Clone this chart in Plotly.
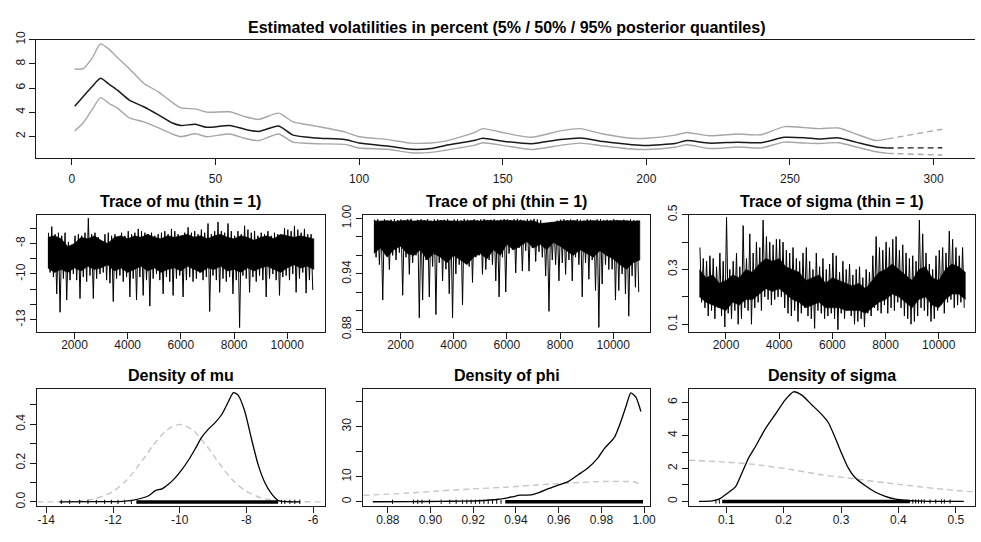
import numpy as np
import plotly.graph_objects as go

W, H = 981, 542
FONT = "Liberation Sans, Arial, Helvetica, sans-serif"
INK = "#1a1a1a"
GRAY = "#a6a6a6"
LIGHT = "#c6c6c6"

# ---------------------------------------------------------------- volatility
t_obs = [1, 4, 7, 10, 13, 16, 20, 25, 30, 35, 38, 43, 47, 55, 60, 65, 72, 77,
         85, 95, 100, 110, 118, 125, 130, 140, 143, 150, 160, 170, 177, 185,
         195, 200, 210, 214, 222, 232, 240, 248, 255, 260, 267, 273, 280, 284]
vol_q50 = [4.5, 5.3, 6.1, 6.8, 6.3, 5.8, 5.0, 4.45, 3.8, 3.1, 2.9, 3.0, 2.75,
           2.9, 2.6, 2.4, 2.85, 2.1, 1.87, 1.73, 1.45, 1.2, 0.93, 0.99, 1.25,
           1.65, 1.84, 1.6, 1.39, 1.73, 1.87, 1.57, 1.31, 1.25, 1.41, 1.65,
           1.44, 1.52, 1.47, 1.92, 1.89, 1.79, 1.87, 1.52, 1.12, 1.04]
vol_q95 = [7.57, 7.6, 8.45, 9.65, 9.2, 8.5, 7.6, 6.4, 5.7, 4.8, 4.35, 4.27,
           4.0, 4.03, 3.65, 3.4, 3.92, 3.2, 2.85, 2.37, 1.97, 1.73, 1.44, 1.45,
           1.6, 2.3, 2.64, 2.32, 1.92, 2.45, 2.64, 2.19, 1.84, 1.84, 2.1, 2.32,
           2.05, 2.19, 2.13, 2.8, 2.72, 2.64, 2.69, 2.19, 1.65, 1.79]
vol_q05 = [2.45, 3.12, 4.19, 5.2, 4.72, 4.32, 3.52, 3.2, 2.72, 2.19, 1.97,
           2.21, 1.97, 2.19, 1.84, 1.65, 2.19, 1.52, 1.39, 1.33, 1.04, 0.93,
           0.64, 0.67, 0.85, 1.25, 1.47, 1.25, 0.91, 1.25, 1.44, 1.2, 0.95,
           0.91, 1.1, 1.31, 0.99, 1.12, 1.04, 1.52, 1.45, 1.41, 1.47, 1.12,
           0.72, 0.59]
t_fore = [284, 303]
fore_q50 = [1.04, 1.05]
fore_q95 = [1.79, 2.59]
fore_q05 = [0.59, 0.45]

# ---------------------------------------------------------------- MCMC draws
# draws 1001..11000 summarised in blocks of 125: block high / block low
draw_start, draw_block = 1001, 125
mu_hi = [-7.3, -6.9, -7.4, -7.3, -7.5, -7.3, -7.9, -8.1, -7.5, -7.4,
         -7.5, -7.3, -6.35, -7.4, -7.3, -7.6, -8.0, -7.4, -7.3, -7.5,
         -7.4, -7.6, -7.3, -7.5, -7.2, -7.4, -7.3, -7.05, -7.2, -7.3,
         -7.4, -7.3, -7.5, -7.4, -7.3, -7.2, -7.4, -7.05, -7.2, -7.4,
         -7.5, -7.3, -6.95, -7.3, -7.2, -7.4, -7.1, -7.3, -6.7, -7.4,
         -7.2, -6.6, -7.2, -7.3, -6.7, -7.2, -7.5, -7.2, -7.4, -6.85,
         -7.1, -7.3, -7.2, -7.5, -7.3, -7.4, -7.2, -7.5, -7.3, -7.4,
         -7.5, -7.0, -7.1, -7.2, -6.85, -7.1, -7.3, -7.05, -7.4, -7.4]
mu_lo = [-9.9, -10.2, -11.3, -12.5, -10.3, -11.7, -10.4, -10.0, -10.4, -11.6,
         -10.2, -10.5, -10.1, -11.6, -10.3, -10.0, -9.9, -10.4, -10.6, -11.8,
         -10.3, -10.1, -10.5, -10.2, -11.5, -10.3, -11.7, -10.2, -11.4, -10.4,
         -12.1, -10.3, -10.0, -10.4, -11.3, -10.2, -10.5, -11.4, -10.3, -10.1,
         -11.5, -10.4, -10.2, -10.5, -10.3, -9.9, -10.4, -10.2, -12.45, -10.1,
         -10.4, -11.2, -10.3, -10.5, -10.2, -11.3, -10.4, -13.5, -10.1, -10.3,
         -11.2, -10.2, -10.5, -10.1, -10.4, -11.5, -10.3, -10.0, -10.4, -11.4,
         -10.2, -10.1, -10.4, -10.0, -11.2, -10.3, -9.9, -11.25, -10.4, -11.05]
phi_hi = [0.9985, 0.9990, 0.9975, 0.9990, 0.9960, 0.9985, 0.9992, 0.9980, 0.9988, 0.9975,
          0.9990, 0.9994, 0.9970, 0.9985, 0.9990, 0.9980, 0.9992, 0.9975, 0.9988, 0.9990,
          0.9980, 0.9985, 0.9992, 0.9970, 0.9988, 0.9990, 0.9980, 0.9994, 0.9985, 0.9975,
          0.9990, 0.9982, 0.9988, 0.9992, 0.9978, 0.9985, 0.9990, 0.9975, 0.9985, 0.9992,
          0.9988, 0.9980, 0.9990, 0.9994, 0.9985, 0.9978, 0.9990, 0.9985, 0.9994, 0.9988,
          0.9980, 0.9950, 0.9940, 0.9960, 0.9945, 0.9975, 0.9985, 0.9990, 0.9980, 0.9988,
          0.9975, 0.9990, 0.9985, 0.9978, 0.9990, 0.9985, 0.9970, 0.9988, 0.9992, 0.9980,
          0.9985, 0.9975, 0.9990, 0.9982, 0.9965, 0.9985, 0.9975, 0.9988, 0.9980, 0.9975]
phi_lo = [0.958, 0.950, 0.9117, 0.962, 0.9447, 0.960, 0.955, 0.963, 0.9169, 0.958,
          0.9395, 0.952, 0.960, 0.8926, 0.9117, 0.955, 0.9152, 0.948, 0.8961, 0.952,
          0.9325, 0.945, 0.9186, 0.8926, 0.940, 0.950, 0.9065, 0.955, 0.948, 0.9308,
          0.958, 0.960, 0.9395, 0.9447, 0.955, 0.950, 0.9325, 0.9152, 0.958, 0.9204,
          0.962, 0.966, 0.9412, 0.968, 0.943, 0.965, 0.943, 0.968, 0.9534, 0.964,
          0.958, 0.9377, 0.8995, 0.955, 0.950, 0.9325, 0.952, 0.9395, 0.955, 0.9325,
          0.958, 0.950, 0.9152, 0.952, 0.9342, 0.955, 0.9221, 0.8822, 0.929, 0.950,
          0.9447, 0.945, 0.9117, 0.9221, 0.940, 0.9186, 0.8943, 0.938, 0.9256, 0.9204]
sigma_hi = [0.38, 0.34, 0.33, 0.35, 0.34, 0.31, 0.36, 0.33,
            0.49, 0.30, 0.33, 0.36, 0.31, 0.46, 0.34, 0.43,
            0.36, 0.40, 0.38, 0.48, 0.42, 0.40, 0.39, 0.41,
            0.41, 0.40, 0.37, 0.36, 0.38, 0.34, 0.33, 0.36,
            0.38, 0.33, 0.30, 0.36, 0.31, 0.34, 0.30, 0.32,
            0.36, 0.35, 0.29, 0.33, 0.30, 0.32, 0.28, 0.30,
            0.31, 0.27, 0.30, 0.29, 0.35, 0.42, 0.38, 0.37,
            0.40, 0.38, 0.41, 0.42, 0.37, 0.39, 0.36, 0.34,
            0.35, 0.33, 0.48, 0.43, 0.36, 0.32, 0.30, 0.35,
            0.37, 0.38, 0.36, 0.44, 0.41, 0.38, 0.35, 0.38]
sigma_lo = [0.18, 0.16, 0.13, 0.15, 0.12, 0.16, 0.13, 0.09,
            0.14, 0.12, 0.15, 0.10, 0.12, 0.16, 0.15, 0.10,
            0.16, 0.18, 0.15, 0.20, 0.19, 0.17, 0.19, 0.20,
            0.20, 0.16, 0.14, 0.13, 0.15, 0.11, 0.14, 0.16,
            0.13, 0.12, 0.085, 0.15, 0.14, 0.12, 0.13, 0.14,
            0.12, 0.08, 0.14, 0.12, 0.15, 0.13, 0.10, 0.11,
            0.12, 0.09, 0.14, 0.13, 0.16, 0.15, 0.14, 0.17,
            0.14, 0.16, 0.15, 0.18, 0.16, 0.13, 0.12, 0.10,
            0.11, 0.13, 0.16, 0.15, 0.13, 0.11, 0.12, 0.15,
            0.17, 0.14, 0.18, 0.19, 0.16, 0.17, 0.18, 0.16]

# dense middle of each chain, every 250 draws (1000..11000)
core_step = 250
mu_core_hi = [-7.6, -7.5, -7.7, -8.2, -8.0, -7.6, -7.7, -7.5, -7.8, -8.0,
              -7.6, -7.5, -7.7, -7.5, -7.6, -7.4, -7.6, -7.7, -7.5, -7.6,
              -7.5, -7.4, -7.6, -7.5, -7.7, -7.5, -7.4, -7.6, -7.7, -7.5,
              -7.6, -7.8, -7.6, -7.5, -7.7, -7.4, -7.5, -7.6, -7.5, -7.6, -7.7]
mu_core_lo = [-9.6, -9.9, -9.7, -9.9, -9.6, -9.8, -9.5, -9.7, -9.6, -9.4,
              -9.8, -9.6, -9.9, -9.7, -9.5, -9.8, -9.6, -9.9, -9.7, -9.6,
              -9.8, -9.5, -9.7, -9.9, -9.6, -9.7, -9.5, -9.8, -9.7, -9.9,
              -9.6, -9.8, -9.6, -9.5, -9.7, -9.9, -9.6, -9.4, -9.6, -9.5, -9.7]
phi_core_hi = [0.9975, 0.9970, 0.9978, 0.9965, 0.9975, 0.9980, 0.9972, 0.9978, 0.9975, 0.9968,
               0.9978, 0.9975, 0.9980, 0.9970, 0.9975, 0.9978, 0.9972, 0.9980, 0.9975, 0.9978,
               0.9980, 0.9975, 0.9978, 0.9970, 0.9975, 0.9945, 0.9950, 0.9960, 0.9972, 0.9975,
               0.9978, 0.9970, 0.9975, 0.9978, 0.9972, 0.9975, 0.9970, 0.9978, 0.9975, 0.9970, 0.9975]
phi_core_lo = [0.962, 0.968, 0.958, 0.966, 0.970, 0.962, 0.960, 0.966, 0.955, 0.962,
               0.958, 0.952, 0.960, 0.955, 0.950, 0.958, 0.962, 0.956, 0.966, 0.960,
               0.972, 0.966, 0.970, 0.975, 0.968, 0.972, 0.966, 0.974, 0.970, 0.965,
               0.960, 0.966, 0.962, 0.958, 0.965, 0.960, 0.956, 0.950, 0.945, 0.952, 0.955]
sigma_core_hi = [0.30, 0.27, 0.28, 0.25, 0.26, 0.28, 0.27, 0.30, 0.29, 0.32,
                 0.34, 0.33, 0.34, 0.31, 0.30, 0.29, 0.26, 0.27, 0.28, 0.25,
                 0.27, 0.26, 0.25, 0.24, 0.25, 0.23, 0.26, 0.29, 0.30, 0.32,
                 0.30, 0.28, 0.26, 0.30, 0.31, 0.27, 0.26, 0.30, 0.32, 0.31, 0.29]
sigma_core_lo = [0.20, 0.18, 0.17, 0.16, 0.15, 0.18, 0.17, 0.19, 0.19, 0.21,
                 0.23, 0.22, 0.23, 0.21, 0.19, 0.18, 0.16, 0.17, 0.18, 0.16,
                 0.16, 0.16, 0.15, 0.15, 0.15, 0.14, 0.16, 0.18, 0.19, 0.21,
                 0.20, 0.18, 0.16, 0.19, 0.20, 0.17, 0.16, 0.19, 0.21, 0.21, 0.19]

# ---------------------------------------------------------------- densities
mu_dens_x = [-13.6, -12.5, -11.7, -11.42, -11.12, -10.92, -10.73, -10.53, -10.33,
             -10.13, -9.93, -9.73, -9.53, -9.34, -9.14, -8.94, -8.74, -8.54,
             -8.39, -8.25, -8.05, -7.85, -7.65, -7.45, -7.25, -7.06, -6.96, -6.6, -6.4]
mu_dens_y = [0, 0.001, 0.003, 0.008, 0.02, 0.033, 0.058, 0.067, 0.092, 0.125,
             0.167, 0.217, 0.275, 0.333, 0.375, 0.408, 0.45, 0.517, 0.563, 0.55,
             0.467, 0.325, 0.192, 0.1, 0.042, 0.008, 0.003, 0.0005, 0]
mu_prior_x = [-14.27, -13.5, -13.0, -12.5, -12.0, -11.6, -11.2, -10.8, -10.4, -10.0,
              -9.6, -9.2, -8.8, -8.4, -8.0, -7.5, -7.0, -6.5, -5.66]
mu_prior_y = [0.0, 0.001, 0.005, 0.018, 0.054, 0.11, 0.195, 0.29, 0.368, 0.399,
              0.368, 0.29, 0.195, 0.11, 0.054, 0.018, 0.005, 0.001, 0.0]
mu_rug_core = [-11.3, -7.05]
mu_rug_tail = [-13.55, -13.3, -13.0, -12.75, -12.5, -12.25, -12.05, -11.85, -11.65,
               -11.45, -6.95, -6.85, -6.7, -6.55, -6.4]

phi_dens_x = [0.873, 0.89, 0.905, 0.915, 0.9225, 0.9318, 0.938, 0.9419, 0.9473,
              0.9504, 0.9551, 0.9597, 0.9644, 0.969, 0.9737, 0.9783, 0.9814,
              0.9861, 0.9892, 0.9915, 0.9938, 0.9961, 0.9985]
phi_dens_y = [0, 0.05, 0.15, 0.25, 0.4, 1.0, 1.9, 2.6, 2.7, 3.5, 5.2, 6.6, 8.0,
              10.7, 13.5, 17.4, 21.2, 25.7, 32.2, 38.0, 43.4, 41.8, 36.0]
phi_prior_x = [0.8685, 0.8884, 0.9039, 0.9194, 0.9349, 0.9504, 0.9659, 0.9814,
               0.9908, 0.9954, 0.9985]
phi_prior_y = [2.55, 3.4, 4.3, 5.1, 5.8, 6.7, 7.5, 8.1, 8.1, 7.9, 6.9]
phi_rug_core = [0.935, 0.9995]
phi_rug_tail = [0.8822, 0.892, 0.894, 0.896, 0.8995, 0.905, 0.909, 0.912, 0.915,
                0.917, 0.919, 0.921, 0.923, 0.925, 0.927, 0.929, 0.931, 0.933]

sigma_dens_x = [0.0526, 0.0758, 0.090, 0.1017, 0.116, 0.1277, 0.139, 0.1507, 0.168,
                0.1854, 0.2027, 0.2171, 0.2316, 0.2489, 0.2662, 0.2777, 0.2893,
                0.3009, 0.3123, 0.3239, 0.3412, 0.3585, 0.3758, 0.3932, 0.4162,
                0.4394, 0.47, 0.514]
sigma_dens_y = [0, 0.04, 0.19, 0.49, 0.88, 1.76, 2.64, 3.32, 4.4, 5.28, 6.16, 6.65,
                6.45, 5.87, 5.28, 4.79, 3.91, 2.93, 2.05, 1.47, 0.98, 0.59, 0.33,
                0.16, 0.06, 0.02, 0.005, 0]
sigma_prior_x = [0.0347, 0.0947, 0.1507, 0.2085, 0.2662, 0.3239, 0.3816, 0.4394,
                 0.4971, 0.5334]
sigma_prior_y = [2.5, 2.4, 2.24, 1.96, 1.62, 1.37, 1.12, 0.88, 0.68, 0.57]
sigma_rug_core = [0.093, 0.42]
sigma_rug_tail = [0.082, 0.088, 0.425, 0.43, 0.435, 0.44, 0.445, 0.455, 0.465,
                  0.475, 0.48, 0.49]

# ---------------------------------------------------------------- layout helpers
def xdom(left, right):
    return [left / W, min(right / W, 1.0)]


def ydom(top, bottom):
    return [1 - bottom / H, 1 - top / H]


def axis(domain, rng, tickvals, ticktext=None, is_y=False, mirror=True, standoff=0):
    d = dict(domain=domain, range=rng, showgrid=False, zeroline=False,
             showline=True, linecolor=INK, linewidth=1, mirror=mirror,
             ticks="outside", ticklen=6, tickwidth=1, tickcolor=INK,
             tickmode="array", tickvals=tickvals,
             ticktext=ticktext if ticktext is not None else [str(v) for v in tickvals],
             tickfont=dict(family=FONT, size=12, color=INK),
             fixedrange=True, ticklabelstandoff=standoff)
    if is_y:
        d["tickangle"] = -90
    return d


def labels(vals, shown, fmt):
    return [fmt.format(v) if v in shown else "" for v in vals]


fig = go.Figure()

# ---------------------------------------------------------------- top panel
for q, col, w in [(vol_q05, GRAY, 1.4), (vol_q95, GRAY, 1.4), (vol_q50, INK, 1.5)]:
    fig.add_trace(go.Scatter(x=t_obs, y=q, mode="lines", xaxis="x", yaxis="y",
                             line=dict(color=col, width=w, shape="spline", smoothing=0.6),
                             hoverinfo="skip"))
for q, col in [(fore_q05, GRAY), (fore_q95, GRAY), (fore_q50, INK)]:
    fig.add_trace(go.Scatter(x=t_fore, y=q, mode="lines", xaxis="x", yaxis="y",
                             line=dict(color=col, width=1.4, dash="6px,4px"),
                             hoverinfo="skip"))

# ---------------------------------------------------------------- traces
def zigzag(hi, lo):
    xs, ys = [], []
    for i, (h, l) in enumerate(zip(hi, lo)):
        base = draw_start + draw_block * i
        xs += [base + 20, base + 82]
        ys += [h, l]
    return xs, ys


chains = [(mu_hi, mu_lo, mu_core_hi, mu_core_lo),
          (phi_hi, phi_lo, phi_core_hi, phi_core_lo),
          (sigma_hi, sigma_lo, sigma_core_hi, sigma_core_lo)]
for k, (hi, lo, chi, clo) in enumerate(chains):
    xa, ya = f"x{k + 2}", f"y{k + 2}"
    cx = [1000 + core_step * i for i in range(len(chi))]
    fig.add_trace(go.Scatter(x=cx + cx[::-1], y=list(chi) + list(clo)[::-1],
                             mode="lines", xaxis=xa, yaxis=ya, fill="toself",
                             fillcolor="#000", line=dict(color="#000", width=0.5),
                             hoverinfo="skip"))
    xs, ys = zigzag(hi, lo)
    fig.add_trace(go.Scatter(x=xs, y=ys, mode="lines", xaxis=xa, yaxis=ya,
                             line=dict(color="#000", width=1), hoverinfo="skip"))

# ---------------------------------------------------------------- densities
dens = [(mu_dens_x, mu_dens_y, mu_prior_x, mu_prior_y, mu_rug_core, mu_rug_tail),
        (phi_dens_x, phi_dens_y, phi_prior_x, phi_prior_y, phi_rug_core, phi_rug_tail),
        (sigma_dens_x, sigma_dens_y, sigma_prior_x, sigma_prior_y, sigma_rug_core, sigma_rug_tail)]
for k, (dx, dy, px_, py_, core, tail) in enumerate(dens):
    xa, ya = f"x{k + 5}", f"y{k + 5}"
    fig.add_trace(go.Scatter(x=px_, y=py_, mode="lines", xaxis=xa, yaxis=ya,
                             line=dict(color=LIGHT, width=1.4, dash="6px,4px",
                                       shape="spline", smoothing=0.8),
                             hoverinfo="skip"))
    fig.add_trace(go.Scatter(x=core, y=[0, 0], mode="lines", xaxis=xa, yaxis=ya,
                             line=dict(color="#000", width=3.5), hoverinfo="skip"))
    fig.add_trace(go.Scatter(x=tail, y=[0] * len(tail), mode="markers", xaxis=xa, yaxis=ya,
                             marker=dict(symbol="line-ns", size=3,
                                         line=dict(color="#000", width=1)),
                             hoverinfo="skip"))
    fig.add_trace(go.Scatter(x=dx, y=dy, mode="lines", xaxis=xa, yaxis=ya,
                             line=dict(color="#000", width=1.3, shape="spline", smoothing=0.6),
                             hoverinfo="skip"))

# ---------------------------------------------------------------- axes
cols = [(37.5, 326.5), (365.5, 654.5), (693, 982)]
row_mid = ydom(211.7, 332.7)
row_bot = ydom(391.7, 513.3)
XS = -4   # x tick labels of the lower rows sit close to the axis

layout = dict(
    width=W, height=H, margin=dict(l=0, r=0, t=0, b=0),
    paper_bgcolor="white", plot_bgcolor="white", showlegend=False,
    font=dict(family=FONT, color=INK),
)
layout["xaxis"] = axis(xdom(36.7, 982.7), [-12.3, 314.4], [0, 50, 100, 150, 200, 250, 300],
                       standoff=3)
layout["yaxis"] = axis(ydom(30.7, 153.3), [0.19, 10.0], [2, 4, 6, 8, 10], is_y=True, mirror=False)

trace_x = [2000, 4000, 6000, 8000, 10000]
for k, (l, r) in enumerate(cols):
    xr = [601, 601 + (min(r, W) - l) / 289 * 10799]
    layout[f"xaxis{k + 2}"] = axis(xdom(l, r), xr, trace_x, standoff=XS)

mu_ticks = [-13, -12, -11, -10, -9, -8, -7]
layout["yaxis2"] = axis(row_mid, [-13.77, -6.12], mu_ticks,
                        labels(mu_ticks, [-13, -10, -8], "{:d}"), is_y=True)
phi_ticks = [0.88, 0.90, 0.92, 0.94, 0.96, 0.98, 1.00]
layout["yaxis3"] = axis(row_mid, [0.8776, 1.004], phi_ticks,
                        labels(phi_ticks, [0.88, 0.94, 1.00], "{:.2f}"), is_y=True)
sig_ticks = [0.1, 0.2, 0.3, 0.4, 0.5]
layout["yaxis4"] = axis(row_mid, [0.073, 0.5], sig_ticks,
                        labels(sig_ticks, [0.1, 0.3, 0.5], "{:.1f}"), is_y=True)
for k in range(3):
    layout[f"yaxis{k + 2}"]["anchor"] = f"x{k + 2}"
    layout[f"xaxis{k + 2}"]["anchor"] = f"y{k + 2}"

layout["xaxis5"] = axis(xdom(*cols[0]), [-14.27, -5.66], [-14, -12, -10, -8, -6], standoff=XS)
layout["xaxis6"] = axis(xdom(*cols[1]), [0.8685, 1.003],
                        [0.88, 0.90, 0.92, 0.94, 0.96, 0.98, 1.00],
                        ["0.88", "0.90", "0.92", "0.94", "0.96", "0.98", "1.00"], standoff=XS)
layout["xaxis7"] = axis(xdom(*cols[2]), [0.0347, 0.5334], [0.1, 0.2, 0.3, 0.4, 0.5],
                        ["0.1", "0.2", "0.3", "0.4", "0.5"], standoff=XS)
md_ticks = [0.0, 0.1, 0.2, 0.3, 0.4, 0.5]
layout["yaxis5"] = axis(row_bot, [-0.0225, 0.583], md_ticks,
                        labels(md_ticks, [0.0, 0.2, 0.4], "{:.1f}"), is_y=True)
pd_ticks = [0, 10, 20, 30, 40]
layout["yaxis6"] = axis(row_bot, [-1.8, 45.1], pd_ticks,
                        labels(pd_ticks, [0, 10, 30], "{:d}"), is_y=True)
sd_ticks = [0, 1, 2, 3, 4, 5, 6]
layout["yaxis7"] = axis(row_bot, [-0.29, 6.84], sd_ticks,
                        labels(sd_ticks, [0, 2, 4, 6], "{:d}"), is_y=True)
for k in range(5, 8):
    layout[f"yaxis{k}"]["anchor"] = f"x{k}"
    layout[f"xaxis{k}"]["anchor"] = f"y{k}"
layout["xaxis"]["anchor"] = "y"
layout["yaxis"]["anchor"] = "x"

# ---------------------------------------------------------------- titles
titles = [("Estimated volatilities in percent (5% / 50% / 95% posterior quantiles)",
           (36.7 + 982.7) / 2, 18)]
mid_names = ["Trace of mu (thin = 1)", "Trace of phi (thin = 1)", "Trace of sigma (thin = 1)"]
bot_names = ["Density of mu", "Density of phi", "Density of sigma"]
for (l, r), a, b in zip(cols, mid_names, bot_names):
    titles.append((a, (l + r) / 2, 198))
    titles.append((b, (l + r) / 2, 378))
layout["annotations"] = [
    dict(text=f"<b>{txt}</b>", x=xc / W, y=1 - yc / H, xref="paper", yref="paper",
         showarrow=False, xanchor="center", yanchor="middle",
         font=dict(family=FONT, size=16, color="#000"))
    for txt, xc, yc in titles
]

fig.update_layout(**layout)
fig.write_html("out.html")
